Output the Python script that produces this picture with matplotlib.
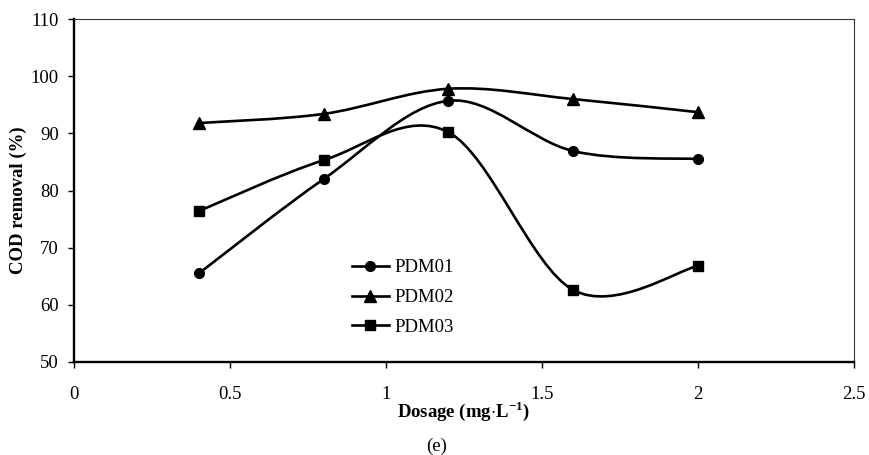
import numpy as np
import matplotlib.pyplot as plt
from matplotlib.path import Path
from matplotlib.patches import PathPatch
from matplotlib.lines import Line2D

plt.rcParams['font.family'] = ['Liberation Serif', 'DejaVu Serif']
plt.rcParams['mathtext.fontset'] = 'custom'
plt.rcParams['mathtext.rm'] = 'Liberation Serif'
plt.rcParams['mathtext.bf'] = 'Liberation Serif:bold'

dosage = [0.4, 0.8, 1.2, 1.6, 2.0]
pdm01 = [65.5, 82.0, 95.7, 86.9, 85.5]
pdm02 = [91.8, 93.4, 97.8, 96.0, 93.7]
pdm03 = [76.4, 85.3, 90.2, 62.6, 66.8]

series = [("PDM01", pdm01, "o", 7),
          ("PDM02", pdm02, "^", 8),
          ("PDM03", pdm03, "s", 7)]


def smooth_path(x, y):
    # excel-like smoothed line: catmull-rom converted to cubic beziers
    p = np.column_stack([x, y]).astype(float)
    n = len(p)
    verts = [p[0]]
    codes = [Path.MOVETO]
    for i in range(n - 1):
        p0 = p[i - 1] if i > 0 else p[i]
        p3 = p[i + 2] if i + 2 < n else p[i + 1]
        c1 = p[i] + (p[i + 1] - p0) / 6.0
        c2 = p[i + 1] - (p3 - p[i]) / 6.0
        verts += [c1, c2, p[i + 1]]
        codes += [Path.CURVE4] * 3
    return Path(verts, codes)


fig = plt.figure(figsize=(8.69, 4.55), dpi=100)
ax = fig.add_axes([0.0852, 0.2044, 0.8975, 0.7538])

lw = 1.9
handles = []
for name, vals, mk, ms in series:
    ax.add_patch(PathPatch(smooth_path(dosage, vals), fill=False,
                           edgecolor='black', lw=lw))
    ax.plot(dosage, vals, linestyle='none', marker=mk, ms=ms, color='black')
    handles.append(Line2D([], [], color='black', lw=lw, marker=mk, ms=ms))

ax.set_xlim(0, 2.5)
ax.set_ylim(50, 110)
ax.set_xticks([0, 0.5, 1, 1.5, 2, 2.5])
ax.set_xticklabels(['0', '0.5', '1', '1.5', '2', '2.5'])
ax.set_yticks(range(50, 111, 10))

for s in ['left', 'bottom']:
    ax.spines[s].set_linewidth(1.7)
for s in ['top', 'right']:
    ax.spines[s].set_linewidth(0.8)
    ax.spines[s].set_color('#333333')

fs = 13.5
ax.tick_params(axis='x', direction='out', length=4, width=1, pad=13,
               labelsize=fs)
ax.tick_params(axis='y', direction='out', length=4, width=1, pad=7,
               labelsize=fs)

ax.set_xlabel(r'Dosage (mg$\cdot$L$^{\mathbf{-1}}$)', fontsize=13.5,
              fontweight='bold', va='center')
ax.xaxis.set_label_coords(0.5, -0.143)
ax.set_ylabel('COD removal (%)', fontsize=13.5, fontweight='bold',
              va='center')
ax.yaxis.set_label_coords(-0.072, 0.472)

ax.legend(handles, [s[0] for s in series], loc='upper left',
          bbox_to_anchor=(0.356, 0.30), frameon=False, fontsize=fs,
          handlelength=2.0, handletextpad=0.27, labelspacing=0.68,
          borderpad=0, borderaxespad=0, numpoints=1)

fig.text(0.502, 0.02, '(e)', ha='center', va='center', fontsize=fs)

fig.savefig('out.png', dpi=100)
